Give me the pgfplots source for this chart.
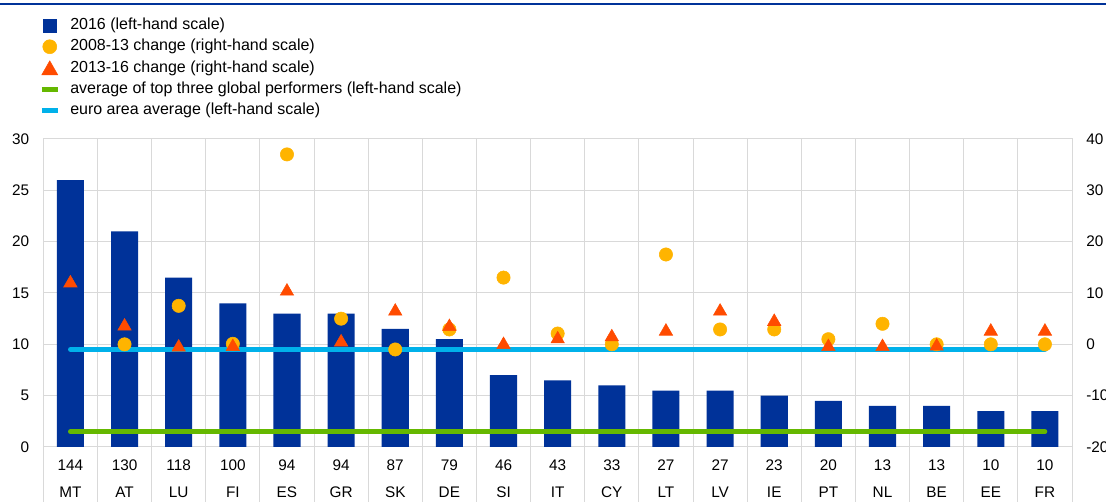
\documentclass[border=0pt]{standalone}
\usepackage{pgfplots}
\pgfplotsset{compat=1.18}
\usepackage{fontspec}
\setmainfont{Liberation Sans}
\definecolor{ecbblue}{HTML}{003299}
\definecolor{ecbyellow}{HTML}{FFB400}
\definecolor{ecborange}{HTML}{FF4B00}
\definecolor{ecbgreen}{HTML}{65B800}
\definecolor{ecbcyan}{HTML}{00B1EA}
\definecolor{gridgray}{HTML}{D9D9D9}
\newcommand{\lblfont}{\fontsize{11.5}{13}\selectfont}
\newcommand{\legfont}{\fontsize{12}{14}\selectfont}
\begin{document}
\begin{tikzpicture}
\useasboundingbox (0,0) rectangle (829.5pt,376.5pt);
\fill[white] (0,0) rectangle (829.5pt,376.5pt);
\draw[ecbblue, line width=1.6pt] (0,373.7pt) -- (829.5pt,373.7pt);
\begin{axis}[
  at={(32.5pt,41.25pt)}, anchor=south west, scale only axis,
  width=771.5pt, height=231pt,
  xmin=-0.5, xmax=18.5, ymin=0, ymax=30,
  ytick={0,5,...,30},
  xtick={0,...,18},
  xticklabels={144,130,118,100,94,94,87,79,46,43,33,27,27,23,20,13,13,10,10},
  extra x ticks={0,...,18},
  extra x tick labels={MT,AT,LU,FI,ES,GR,SK,DE,SI,IT,CY,LT,LV,IE,PT,NL,BE,EE,FR},
  extra x tick style={xticklabel style={yshift=-20.45pt}, major tick length=0pt, grid=none},
  xticklabel style={anchor=base, yshift=-17.8pt, font=\lblfont, inner sep=0pt},
  yticklabel style={anchor=east, xshift=-10.5pt, inner sep=0pt, font=\lblfont},
  minor xtick={-0.5,0.5,...,18.5},
  xminorgrids=true, ymajorgrids=true,
  minor tick length=41.25pt, major tick length=0pt, tick align=outside,
  xtick pos=left, ytick pos=left,
  grid style={draw=gridgray, line width=0.75pt},
  minor grid style={draw=gridgray, line width=0.75pt},
  every minor tick/.append style={draw=gridgray, line width=0.75pt},
  axis line style={draw=gridgray, line width=0.75pt},
  /pgf/number format/assume math mode=true,
]
\addplot[ybar, bar width=0.5, fill=ecbblue, draw=none] coordinates {
 (0,26) (1,21) (2,16.5) (3,14) (4,13) (5,13) (6,11.5) (7,10.5) (8,7) (9,6.5)
 (10,6) (11,5.5) (12,5.5) (13,5) (14,4.5) (15,4) (16,4) (17,3.5) (18,3.5)};
\addplot[ecbgreen, line width=3.6pt, line cap=round] coordinates {(0,1.5) (18,1.5)};
\addplot[ecbcyan, line width=3.6pt, line cap=round] coordinates {(0,9.5) (18,9.5)};
\end{axis}
\begin{axis}[
  at={(32.5pt,41.25pt)}, anchor=south west, scale only axis,
  width=771.5pt, height=231pt,
  xmin=-0.5, xmax=18.5, ymin=-20, ymax=40,
  hide x axis, axis y line*=right,
  y axis line style={draw=none},
  ytick={-20,-10,...,40},
  yticklabels={-20,-10,0,10,20,30,40},
  major tick length=0pt,
  yticklabel style={anchor=west, xshift=10.5pt, inner sep=0pt, font=\lblfont},
  legend cell align=left,
  legend style={at={(0,1)}, anchor=north west, xshift=-3.25pt, yshift=90.8pt,
    draw=none, fill=none, inner sep=0pt, column sep=7.5pt, row sep=4.9pt,
    font=\legfont, nodes={inner sep=0pt, text height=8.5pt, text depth=2.5pt}},
]
\addlegendimage{legend image code/.code={\fill[ecbblue] (-4.9pt,-4.9pt) rectangle (4.9pt,4.9pt);}}
\addlegendentry{2016 (left-hand scale)}
\addlegendimage{legend image code/.code={\fill[ecbyellow] (0,0) circle (5.25pt);}}
\addlegendentry{2008-13 change (right-hand scale)}
\addlegendimage{legend image code/.code={\fill[ecborange] (-6pt,-5pt) -- (6pt,-5pt) -- (0,5.5pt) -- cycle;}}
\addlegendentry{2013-16 change (right-hand scale)}
\addlegendimage{legend image code/.code={\draw[ecbgreen, line width=3.75pt] (-6pt,0) -- (6pt,0);}}
\addlegendentry{average of top three global performers (left-hand scale)}
\addlegendimage{legend image code/.code={\draw[ecbcyan, line width=3.75pt] (-6pt,0) -- (6pt,0);}}
\addlegendentry{euro area average (left-hand scale)}
\addplot[only marks, mark=*, mark size=5pt, color=ecbyellow, forget plot] coordinates {
 (1,0) (2,7.5) (3,0.1) (4,37) (5,5) (6,-1) (7,2.9) (8,13) (9,2.1)
 (10,0) (11,17.5) (12,2.9) (13,2.9) (14,1.0) (15,4.0) (16,0) (17,0) (18,0)};
\addplot[only marks, mark=triangle*, mark size=5.8pt, color=ecborange, mark options={yshift=-1.45pt}, forget plot] coordinates {
 (0,12.3) (1,3.9) (2,-0.2) (3,-0.1) (4,10.7) (5,0.8) (6,6.8) (7,3.8) (8,0.3) (9,1.4)
 (10,1.8) (11,2.9) (12,6.8) (13,4.8) (14,-0.1) (15,-0.1) (16,0) (17,2.9) (18,2.9)};
\end{axis}
\end{tikzpicture}
\end{document}
